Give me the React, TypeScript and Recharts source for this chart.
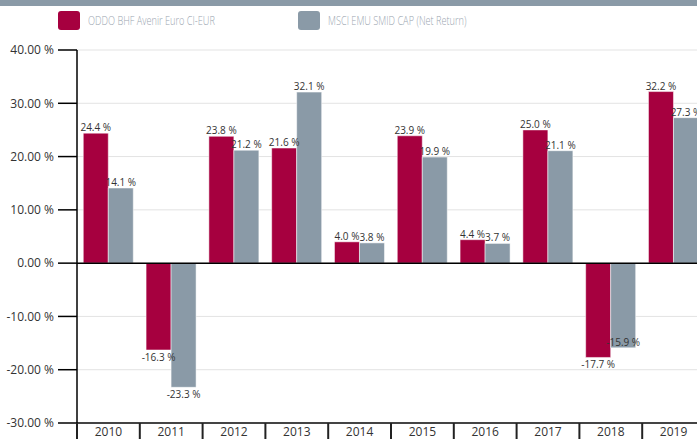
import React from "react";
import {
  BarChart,
  Bar,
  XAxis,
  YAxis,
  CartesianGrid,
  ReferenceLine,
  LabelList,
} from "recharts";

const years = ["2010", "2011", "2012", "2013", "2014", "2015", "2016", "2017", "2018", "2019"];
const fundValues = [24.4, -16.3, 23.8, 21.6, 4.0, 23.9, 4.4, 25.0, -17.7, 32.2];
const indexValues = [14.1, -23.3, 21.2, 32.1, 3.8, 19.9, 3.7, 21.1, -15.9, 27.3];
const yTicks = [-30, -20, -10, 0, 10, 20, 30, 40];
const seriesNames = ["ODDO BHF Avenir Euro CI-EUR", "MSCI EMU SMID CAP (Net Return)"];

const RED = "#a6003f";
const GRAY = "#8a9aa7";
const FONT = "'Open Sans', sans-serif";

const data = years.map((y, i) => ({ year: y, fund: fundValues[i], index: indexValues[i] }));

const makeLabel = (series: "fund" | "index") => (props: any) => {
  const { x, y, width, height, value, index } = props;
  const top = Math.min(y, y + height);
  const bottom = Math.max(y, y + height);
  const cx = x + width / 2;
  let ty: number;
  if (value >= 0) {
    ty = top - 6;
  } else {
    ty = bottom + 7;
    if (series === "index") {
      const other = fundValues[index];
      if (other < value && value - other < 3) ty = bottom - 6;
    }
  }
  return (
    <text
      x={cx}
      y={ty}
      textAnchor="middle"
      dominantBaseline="central"
      fontSize={10}
      fontFamily={FONT}
      fill="#333"
    >
      {value.toFixed(1) + " %"}
    </text>
  );
};

const XTick = (props: any) => {
  const { x, y, payload, width, visibleTicksCount } = props;
  const half =
    payload && payload.offset ? payload.offset : width / (visibleTicksCount || years.length) / 2;
  return (
    <g>
      <line x1={x - half} y1={y} x2={x - half} y2={y + 20} stroke="#222" strokeWidth={2} />
      <text x={x} y={y + 13} textAnchor="middle" fontSize={12} fontFamily={FONT} fill="#333">
        {payload.value}
      </text>
    </g>
  );
};

const LegendBlock = () => (
  <div style={{ position: "absolute", left: 0, top: 11, height: 20, width: 697 }}>
    {[RED, GRAY].map((c, i) => (
      <div
        key={i}
        style={{
          position: "absolute",
          left: i === 0 ? 58 : 298,
          top: 0,
          display: "flex",
          alignItems: "center",
          height: 19,
        }}
      >
        <div style={{ width: 22, height: 19, background: c, borderRadius: 3, flex: "none" }} />
        <span
          style={{
            marginLeft: 8,
            fontSize: 13.5,
            lineHeight: "19px",
            fontFamily: FONT,
            fontWeight: 300,
            color: "#9aa5af",
            whiteSpace: "nowrap",
            display: "inline-block",
            transform: "scaleX(0.68)",
            transformOrigin: "left center",
          }}
        >
          {seriesNames[i]}
        </span>
      </div>
    ))}
  </div>
);

export default function App() {
  return (
    <div
      style={{
        position: "fixed",
        left: 0,
        top: 0,
        width: 697,
        height: 439,
        overflow: "hidden",
        background: "#fff",
      }}
    >
      <div style={{ position: "absolute", left: 0, top: 0, width: 697, height: 6, background: GRAY }} />
      <LegendBlock />
      <BarChart
        width={720}
        height={439}
        data={data}
        margin={{ top: 50, right: 15, bottom: 0, left: 0 }}
        barCategoryGap="10%"
        barGap={0}
        style={{ fontFamily: FONT }}
      >
        <CartesianGrid vertical={false} stroke="#e3e3e3" />
        <XAxis
          dataKey="year"
          height={16}
          tickSize={0}
          tickMargin={0}
          tickLine={false}
          axisLine={{ stroke: "#444", strokeWidth: 2 }}
          tick={<XTick />}
          interval={0}
        />
        <YAxis
          width={77}
          domain={[-30, 40]}
          ticks={yTicks}
          tickFormatter={(v: number) => v.toFixed(2) + " %"}
          tickSize={19}
          tickMargin={4}
          tickLine={{ stroke: "#000", strokeWidth: 1.5 }}
          axisLine={{ stroke: "#000", strokeWidth: 1.5 }}
          tick={{ fontSize: 12, fill: "#333", fontFamily: FONT }}
          allowDataOverflow
        />
        <ReferenceLine y={0} stroke="#000" strokeWidth={1.5} />
        <Bar
          dataKey="fund"
          name={seriesNames[0]}
          fill={RED}
          stroke="rgba(255,255,255,0.5)"
          strokeWidth={1}
          isAnimationActive={false}
        >
          <LabelList dataKey="fund" content={makeLabel("fund")} />
        </Bar>
        <Bar
          dataKey="index"
          name={seriesNames[1]}
          fill={GRAY}
          stroke="rgba(255,255,255,0.5)"
          strokeWidth={1}
          isAnimationActive={false}
        >
          <LabelList dataKey="index" content={makeLabel("index")} />
        </Bar>
      </BarChart>
    </div>
  );
}
